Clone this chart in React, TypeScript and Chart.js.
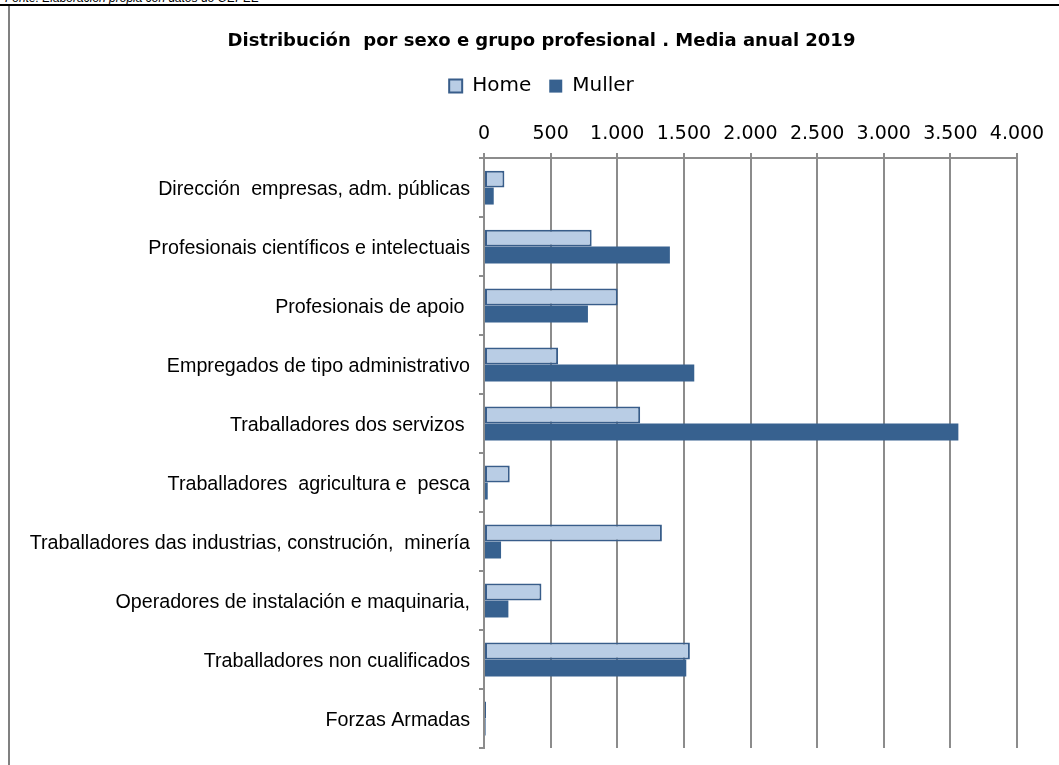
import React, { useEffect, useRef } from "react";
import { Chart, registerables } from "chart.js";

Chart.register(...registerables);

const categories = [
  "Dirección  empresas, adm. públicas",
  "Profesionais científicos e intelectuais",
  "Profesionais de apoio ",
  "Empregados de tipo administrativo",
  "Traballadores dos servizos ",
  "Traballadores  agricultura e  pesca",
  "Traballadores das industrias, construción,  minería",
  "Operadores de instalación e maquinaria,",
  "Traballadores non cualificados",
  "Forzas Armadas",
];
const homeValues = [153, 808, 1003, 556, 1172, 193, 1335, 431, 1545, 15];
const mullerValues = [73, 1395, 780, 1578, 3560, 28, 128, 183, 1518, 12];
const seriesNames = ["Home", "Muller"];
const titleText = "Distribución  por sexo e grupo profesional . Media anual 2019";
const sourceText = "Fonte: Elaboración propia con datos do OEPEE";
const xMin = 0;
const xMax = 4000;
const xStep = 500;

const fmt = (v: number) =>
  String(Math.round(v)).replace(/\B(?=(\d{3})+(?!\d))/g, ".");

const shiftTopBoxes = {
  id: "shiftTopBoxes",
  afterLayout(chart: any) {
    const dx = 56;
    if (chart.titleBlock) chart.titleBlock.left += dx;
    if (chart.legend) chart.legend.left += dx;
  },
};

export default function App() {
  const ref = useRef<HTMLCanvasElement | null>(null);
  useEffect(() => {
    document.body.style.margin = "0";
    const canvas = ref.current;
    if (!canvas) return;
    const gridColor = "#8c8c8c";
    const chart = new Chart(canvas, {
      type: "bar",
      data: {
        labels: categories,
        datasets: [
          {
            label: seriesNames[0],
            data: homeValues,
            backgroundColor: "#b9cde5",
            borderColor: "#385d8a",
            borderWidth: 2,
            borderSkipped: false,
            categoryPercentage: 0.575,
            barPercentage: 1,
          },
          {
            label: seriesNames[1],
            data: mullerValues,
            backgroundColor: "#37618f",
            borderColor: "#37618f",
            borderWidth: 0,
            categoryPercentage: 0.575,
            barPercentage: 1,
          },
        ],
      },
      plugins: [shiftTopBoxes],
      options: {
        indexAxis: "y",
        responsive: false,
        animation: false,
        devicePixelRatio: 1,
        layout: { padding: { left: 0, right: 42, top: 0, bottom: 17 } },
        plugins: {
          tooltip: { enabled: false },
          title: {
            display: true,
            text: titleText,
            color: "#000",
            font: { family: "'DejaVu Sans', Verdana, sans-serif", size: 18, weight: "bold" },
            padding: { top: 25, bottom: 5.5 },
          },
          legend: {
            display: true,
            position: "top",
            labels: {
              color: "#000",
              boxWidth: 13,
              boxHeight: 13,
              padding: 18,
              font: { family: "'DejaVu Sans', Verdana, sans-serif", size: 20 },
            },
          },
        },
        scales: {
          x: {
            position: "top",
            min: xMin,
            max: xMax,
            ticks: {
              stepSize: xStep,
              color: "#000",
              padding: 8,
              font: { family: "'DejaVu Sans', Verdana, sans-serif", size: 19 },
              callback: (v: any) => fmt(Number(v)),
            },
            grid: { color: gridColor, lineWidth: 2, tickLength: 5, drawTicks: true },
            border: { display: true, color: gridColor, width: 2 },
            afterFit: (s: any) => {
              s.height = 52;
            },
          },
          y: {
            ticks: {
              color: "#000",
              padding: 9,
              labelOffset: 2,
              autoSkip: false,
              font: { family: "'Liberation Sans', Arial, sans-serif", size: 19.7 },
            },
            grid: {
              drawOnChartArea: false,
              color: gridColor,
              lineWidth: 2,
              tickLength: 5,
              offset: true,
            },
            border: { display: true, color: gridColor, width: 2 },
            afterFit: (s: any) => {
              s.width = 474;
              s.paddingTop = 0;
              s.paddingBottom = 0;
            },
          },
        },
      },
    });
    return () => chart.destroy();
  }, []);

  return (
    <div
      style={{
        position: "relative",
        width: 1059,
        height: 765,
        overflow: "hidden",
        background: "#fff",
      }}
    >
      <div
        style={{
          position: "absolute",
          left: 5,
          top: -8,
          fontFamily: "'Liberation Sans', Arial, sans-serif",
          fontStyle: "italic",
          fontSize: 12,
          lineHeight: "12px",
          color: "#000",
          whiteSpace: "nowrap",
        }}
      >
        {sourceText}
      </div>
      <div
        style={{
          position: "absolute",
          left: 0,
          top: 4,
          width: 1059,
          height: 2,
          background: "#000",
        }}
      />
      <div
        style={{
          position: "absolute",
          left: 8,
          top: 6,
          width: 2,
          height: 760,
          background: "#808080",
        }}
      />
      <canvas
        ref={ref}
        width={1049}
        height={759}
        style={{ position: "absolute", left: 10, top: 6, width: 1049, height: 759 }}
      />
    </div>
  );
}
